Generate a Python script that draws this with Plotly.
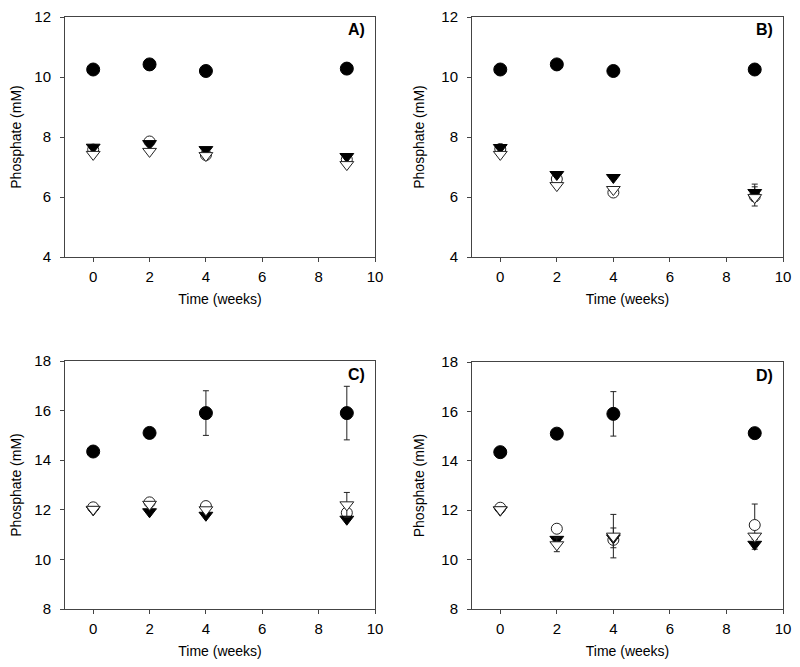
import plotly.graph_objects as go

weeks = [0, 2, 4, 9]

# Panel A
A_fc = [10.25, 10.42, 10.20, 10.28]; A_fc_err = [0.05, 0.05, 0.12, 0.05]
A_oc = [7.58, 7.85, 7.40, 7.25];     A_oc_err = [0.05, 0.05, 0.05, 0.05]
A_ft = [7.66, 7.78, 7.58, 7.35];     A_ft_err = [0.04, 0.04, 0.04, 0.04]
A_ot = [7.42, 7.52, 7.38, 7.08];     A_ot_err = [0.04, 0.04, 0.04, 0.04]

# Panel B
B_fc = [10.25, 10.42, 10.20, 10.25]; B_fc_err = [0.05, 0.05, 0.12, 0.05]
B_oc = [7.60, 6.60, 6.15, 6.02];     B_oc_err = [0.05, 0.08, 0.05, 0.32]
B_ft = [7.65, 6.75, 6.65, 6.15];     B_ft_err = [0.04, 0.05, 0.05, 0.28]
B_ot = [7.42, 6.38, 6.25, 5.98];     B_ot_err = [0.04, 0.05, 0.05, 0.10]

# Panel C
C_fc = [14.35, 15.10, 15.90, 15.90]; C_fc_err = [0.05, 0.05, 0.90, 1.08]
C_oc = [12.10, 12.30, 12.15, 11.88]; C_oc_err = [0.05, 0.05, 0.05, 0.10]
C_ft = [12.00, 11.92, 11.78, 11.62]; C_ft_err = [0.04, 0.05, 0.05, 0.05]
C_ot = [12.02, 12.22, 12.00, 12.20]; C_ot_err = [0.04, 0.05, 0.05, 0.50]

# Panel D
D_fc = [14.35, 15.10, 15.90, 15.12]; D_fc_err = [0.05, 0.05, 0.90, 0.05]
D_oc = [12.10, 11.25, 10.80, 11.40]; D_oc_err = [0.05, 0.05, 0.10, 0.85]
D_ft = [12.00, 10.82, 10.88, 10.62]; D_ft_err = [0.04, 0.08, 0.40, 0.20]
D_ot = [12.02, 10.60, 10.95, 10.95]; D_ot_err = [0.04, 0.28, 0.88, 0.10]

panels = [
    ("A)", [A_fc, A_oc, A_ft, A_ot], [A_fc_err, A_oc_err, A_ft_err, A_ot_err], (4, 12)),
    ("B)", [B_fc, B_oc, B_ft, B_ot], [B_fc_err, B_oc_err, B_ft_err, B_ot_err], (4, 12)),
    ("C)", [C_fc, C_oc, C_ft, C_ot], [C_fc_err, C_oc_err, C_ft_err, C_ot_err], (8, 18)),
    ("D)", [D_fc, D_oc, D_ft, D_ot], [D_fc_err, D_oc_err, D_ft_err, D_ot_err], (8, 18)),
]

W, H = 800, 667
OFF = 8  # page body margin
# pixel boxes in the screenshot (left, right, top, bottom)
boxes = [(65, 375, 17, 257), (472, 783, 17, 257), (65, 375, 361, 609), (472, 783, 362, 609)]

styles = [
    dict(symbol="circle", size=13, color="black", line=dict(color="black", width=1)),
    dict(symbol="circle", size=11, color="white", line=dict(color="#222", width=1)),
    dict(symbol="triangle-down", size=12, color="black", line=dict(color="black", width=1)),
    dict(symbol="triangle-down", size=12, color="white", line=dict(color="#222", width=1)),
]
order = [0, 1, 2, 3]

fig = go.Figure()
font = "Arial, Liberation Sans, sans-serif"
for i, (label, series, errs, yr) in enumerate(panels):
    n = i + 1
    xa = "x" if n == 1 else f"x{n}"
    ya = "y" if n == 1 else f"y{n}"
    for k in order:
        fig.add_trace(go.Scatter(
            x=weeks, y=series[k], mode="markers", xaxis=xa, yaxis=ya,
            marker=styles[k], showlegend=False,
            error_y=dict(type="data", array=errs[k], color="#222", thickness=1, width=3),
        ))
    l, r, t, b = [v - OFF for v in boxes[i]]
    xkey = "xaxis" if n == 1 else f"xaxis{n}"
    ykey = "yaxis" if n == 1 else f"yaxis{n}"
    fig.layout[xkey] = dict(
        domain=[l / W, r / W], anchor=ya, range=[-1, 10], tickvals=[0, 2, 4, 6, 8, 10],
        showgrid=False, zeroline=False, showline=True, linecolor="#444", linewidth=1, mirror=True,
        ticks="outside", ticklen=4, tickcolor="#444", automargin=False, ticklabelstandoff=2,
        ticklabeloverflow="allow",
        tickfont=dict(family=font, size=15, color="black"),
        title=dict(text="Time (weeks)", font=dict(family=font, size=14, color="black"), standoff=10),
    )
    fig.layout[ykey] = dict(
        domain=[1 - b / H, 1 - t / H], anchor=xa, range=list(yr), dtick=2,
        showgrid=False, zeroline=False, showline=True, linecolor="#444", linewidth=1, mirror=True,
        ticks="outside", ticklen=4, tickcolor="#444", automargin=False, ticklabelstandoff=6,
        ticklabeloverflow="allow",
        tickfont=dict(family=font, size=15, color="black"),
        title=dict(text="Phosphate (mM)", font=dict(family=font, size=14, color="black"), standoff=13),
    )
    fig.add_annotation(
        x=(r - 8) / W, y=1 - (t + 13) / H, xref="paper", yref="paper", text=f"<b>{label}</b>",
        showarrow=False, xanchor="right", yanchor="middle",
        font=dict(family=font, size=16, color="black"),
    )

fig.update_layout(
    width=W, height=H, margin=dict(l=0, r=0, t=0, b=0),
    paper_bgcolor="white", plot_bgcolor="white",
)
fig.write_html("out.html")
